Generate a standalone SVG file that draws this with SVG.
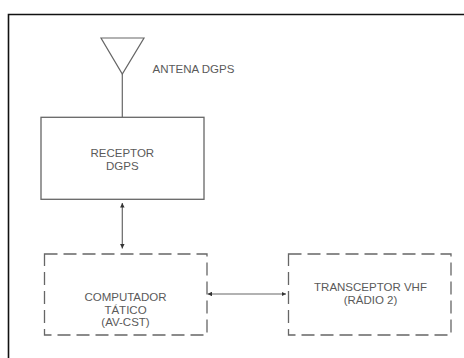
<svg xmlns="http://www.w3.org/2000/svg" width="464" height="358" viewBox="0 0 464 358">
<style>
text{font-family:"Liberation Sans",Arial,sans-serif;font-size:11.5px;fill:#5a5a5a;text-anchor:middle}
.solid{fill:#fff;stroke:#666;stroke-width:1.3}
.dash{fill:none;stroke:#666;stroke-width:1.3;stroke-dasharray:13 6}
.conn{stroke:#666;stroke-width:1.2;fill:none}
</style>
<defs>
<marker id="ah" viewBox="0 0 10 10" refX="10" refY="5" markerWidth="4.5" markerHeight="4.5" orient="auto-start-reverse" markerUnits="userSpaceOnUse">
<path d="M0,0 L10,5 L0,10 Z" fill="#333"/>
</marker>
</defs>
<rect x="-2" y="0" width="470" height="362" fill="#fff"/>
<path d="M8.5,380 V14.5 H480" fill="none" stroke="#111" stroke-width="1.6"/>
<g id="connectors">
<line class="conn" x1="122.3" y1="74" x2="122.3" y2="117"/>
<line class="conn" x1="122.3" y1="203" x2="122.3" y2="248.5" marker-start="url(#ah)" marker-end="url(#ah)"/>
<line class="conn" x1="207.5" y1="294" x2="286" y2="294" marker-start="url(#ah)" marker-end="url(#ah)"/>
</g>
<g id="antena">
<path d="M101,38 H144 L122.3,74 Z" fill="none" stroke="#666" stroke-width="1.2"/>
<text x="152.5" y="72.5" style="text-anchor:start">ANTENA DGPS</text>
</g>
<g id="receptor">
<rect class="solid" x="41" y="117.3" width="163" height="82"/>
<text x="122.3" y="156.5">RECEPTOR</text>
<text x="122.3" y="170">DGPS</text>
</g>
<g id="computador">
<rect class="dash" x="44.5" y="254" width="162.5" height="81"/>
<text x="125.5" y="301">COMPUTADOR</text>
<text x="125.5" y="313.5">TÁTICO</text>
<text x="125.5" y="326">(AV-CST)</text>
</g>
<g id="transceptor">
<rect class="dash" x="288.5" y="254" width="162.5" height="81"/>
<text x="370.5" y="291">TRANSCEPTOR VHF</text>
<text x="370.5" y="304">(RÁDIO 2)</text>
</g>
</svg>
